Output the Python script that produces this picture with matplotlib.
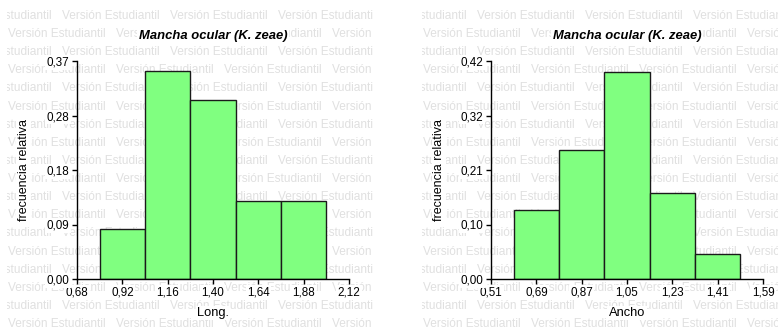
import matplotlib
matplotlib.use("Agg")
import matplotlib.pyplot as plt
import numpy as np

plt.rcParams['font.family'] = ['Liberation Sans', 'DejaVu Sans']

# relative frequency histograms (bin edges and heights)
long_edges = [0.80, 1.04, 1.28, 1.52, 1.76, 2.00]
long_freq = [0.085, 0.353, 0.303, 0.133, 0.133]
long_xticks = [0.68, 0.92, 1.16, 1.40, 1.64, 1.88, 2.12]
long_yticks = [0.0, 0.0925, 0.185, 0.2775, 0.37]
long_ylabels = ["0,00", "0,09", "0,18", "0,28", "0,37"]

ancho_edges = [0.60, 0.78, 0.96, 1.14, 1.32, 1.50]
ancho_freq = [0.132, 0.249, 0.399, 0.165, 0.049]
ancho_xticks = [0.51, 0.69, 0.87, 1.05, 1.23, 1.41, 1.59]
ancho_yticks = [0.0, 0.105, 0.21, 0.315, 0.42]
ancho_ylabels = ["0,00", "0,10", "0,21", "0,32", "0,42"]

title = "Mancha ocular (K. zeae)"
ylabel = "frecuencia relativa"
watermark = "Versión Estudiantil"

W, H = 778, 330
fig = plt.figure(figsize=(W / 100, H / 100), dpi=100, facecolor="white")

white = dict(facecolor="white", edgecolor="none", pad=1.0)


def stamp(x0, x1):
    # repeated watermark behind each panel, clipped to the panel area
    bg = fig.add_axes([x0 / W, 0, (x1 - x0) / W, 321 / H])
    bg.set_xlim(0, x1 - x0)
    bg.set_ylim(321, 0)
    bg.axis("off")
    for row in range(18):
        y = 16 - 9 + row * 18.12
        shift = -54 if row % 2 == 0 else 0
        for k in range(5):
            x = 1 + shift + k * 108
            bg.text(x, y, watermark, fontsize=8.6, color="#e0e0e0",
                    va="center", ha="left", clip_on=True)


def panel(x0px, edges, freq, xticks, yticks, ylabels, xlabel, ylab_x):
    ax = fig.add_axes([x0px / W, 51 / H, 272 / W, 218 / H])
    ax.patch.set_visible(False)
    widths = np.diff(edges)
    ax.bar(edges[:-1], freq, width=widths, align="edge",
           color="#80ff80", edgecolor="#1a1a1a", linewidth=1.0)
    ax.set_xlim(xticks[0], xticks[-1])
    ax.set_ylim(yticks[0], yticks[-1])
    ax.set_xticks(xticks)
    ax.set_xticklabels([f"{t:.2f}".replace(".", ",") for t in xticks])
    ax.set_yticks(yticks)
    ax.set_yticklabels(ylabels)
    for s in ("top", "right"):
        ax.spines[s].set_visible(False)
    for s in ("left", "bottom"):
        ax.spines[s].set_linewidth(1.0)
    ax.tick_params(direction="out", length=3.5, width=1.0, pad=2,
                   labelsize=8.4)
    for lbl in ax.get_xticklabels() + ax.get_yticklabels():
        lbl.set_bbox(white)
    ax.set_title(title, fontsize=9.4, fontweight="bold", fontstyle="italic",
                 y=1.0, pad=16, bbox=white)
    ax.set_xlabel(xlabel, fontsize=9.3, va="center", bbox=white)
    ax.xaxis.set_label_coords(0.5, -0.156)
    ax.set_ylabel(ylabel, fontsize=9.0, va="center", bbox=white)
    ax.yaxis.set_label_coords(ylab_x, 0.5)
    return ax


stamp(7, 373)
stamp(422, 778)
panel(77, long_edges, long_freq, long_xticks, long_yticks, long_ylabels,
      "Long.", -0.196)
panel(491, ancho_edges, ancho_freq, ancho_xticks, ancho_yticks, ancho_ylabels,
      "Ancho", -0.191)

fig.savefig("out.png", dpi=100, facecolor="white")
